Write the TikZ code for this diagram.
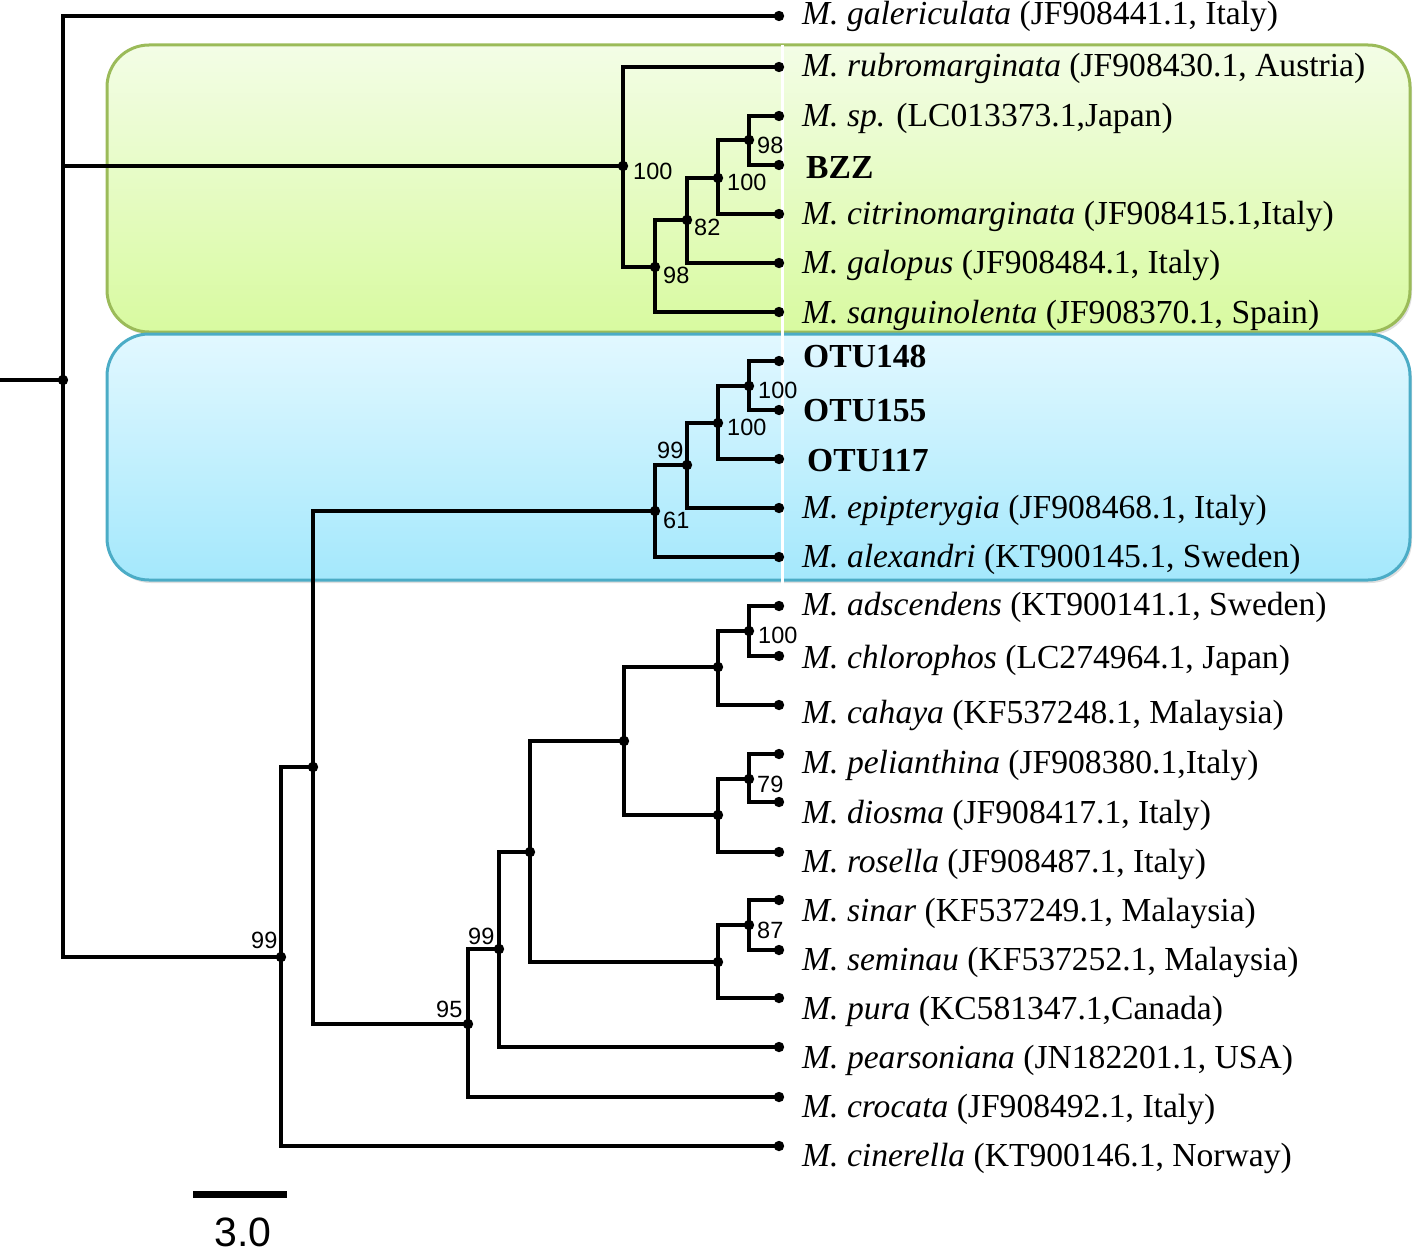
\documentclass[tikz,border=0pt]{standalone}
\usepackage{fontspec}
\setmainfont{Liberation Serif}
\newfontfamily\arialf{Liberation Sans}
\usetikzlibrary{shadows}
\definecolor{gborder}{RGB}{155,187,89}
\definecolor{gtop}{RGB}{243,253,230}
\definecolor{gbot}{RGB}{216,250,160}
\definecolor{bborder}{RGB}{75,172,198}
\definecolor{btop}{RGB}{226,248,255}
\definecolor{bbot}{RGB}{164,232,252}
\begin{document}
\begin{tikzpicture}[x=1pt,y=-1pt,
  branch/.style={line width=3.6pt, line cap=rect},
  tipdot/.style={fill=black},
  leaf/.style={anchor=base west, inner sep=0pt, font=\fontsize{33.6}{36}\selectfont},
  boot/.style={anchor=base west, inner sep=0pt, font=\arialf\fontsize{23.5}{26}\selectfont},
  clade/.style={rounded corners=42pt, line width=3pt, drop shadow={opacity=0.25, shadow xshift=2pt, shadow yshift=-3pt}}
]
\useasboundingbox (0,0) rectangle (1418,1255);
% clade boxes
\draw[clade, draw=gborder, top color=gtop, bottom color=gbot] (107,45) rectangle (1410,332);
\draw[clade, draw=bborder, top color=btop, bottom color=bbot] (107,334) rectangle (1410,580);
\coordinate (w1) at (782,45);
\coordinate (w2) at (782,590);
\draw[white, line width=3pt] (w1) -- (w2);

% internal nodes
\coordinate (stub) at (0,380);
\coordinate (root) at (63,380);
\coordinate (nA) at (623,166);
\coordinate (nB) at (655,267);
\coordinate (nC) at (687,220);
\coordinate (nD) at (718,178);
\coordinate (nE) at (749,140);
\coordinate (nF) at (281,957);
\coordinate (nG) at (313,767);
\coordinate (nH) at (655,511);
\coordinate (nJ) at (687,465);
\coordinate (nK) at (718,423);
\coordinate (nL) at (749,386);
\coordinate (nI) at (468,1024);
\coordinate (nM) at (499,949);
\coordinate (nN) at (530,852);
\coordinate (nO) at (624,741);
\coordinate (nP) at (718,962);
\coordinate (nQ) at (718,667);
\coordinate (nR) at (718,815);
\coordinate (nS) at (749,631);
\coordinate (nT) at (749,779);
\coordinate (nU) at (749,925);
% tips
\coordinate (t1) at (779,16);
\coordinate (t2) at (779,67);
\coordinate (t3) at (779,116);
\coordinate (t4) at (779,165);
\coordinate (t5) at (779,214);
\coordinate (t6) at (779,263);
\coordinate (t7) at (779,312);
\coordinate (t8) at (779,361);
\coordinate (t9) at (779,410);
\coordinate (t10) at (779,459);
\coordinate (t11) at (779,508);
\coordinate (t12) at (779,557);
\coordinate (t13) at (779,606);
\coordinate (t14) at (779,656);
\coordinate (t15) at (779,705);
\coordinate (t16) at (779,754);
\coordinate (t17) at (779,802);
\coordinate (t18) at (779,852);
\coordinate (t19) at (779,900);
\coordinate (t20) at (779,950);
\coordinate (t21) at (779,998);
\coordinate (t22) at (779,1047);
\coordinate (t23) at (779,1097);
\coordinate (t24) at (779,1146);

% branches
\draw[branch] (stub) -- (root);
\foreach \p/\c in {root/t1, root/nA, root/nF,
  nA/t2, nA/nB, nB/nC, nB/t7, nC/nD, nC/t6, nD/nE, nD/t5, nE/t3, nE/t4,
  nF/nG, nF/t24, nG/nH, nG/nI,
  nH/nJ, nH/t12, nJ/nK, nJ/t11, nK/nL, nK/t10, nL/t8, nL/t9,
  nI/nM, nI/t23, nM/nN, nM/t22, nN/nO, nN/nP,
  nO/nQ, nO/nR, nQ/nS, nQ/t15, nS/t13, nS/t14,
  nR/nT, nR/t18, nT/t16, nT/t17,
  nP/nU, nP/t21, nU/t19, nU/t20}
  \draw[branch] (\p) |- (\c);

% dots
\foreach \n in {root,nA,nB,nC,nD,nE,nF,nG,nH,nJ,nK,nL,nI,nM,nN,nO,nP,nQ,nR,nS,nT,nU,
  t1,t2,t3,t4,t5,t6,t7,t8,t9,t10,t11,t12,t13,t14,t15,t16,t17,t18,t19,t20,t21,t22,t23,t24}
  \fill[tipdot] (\n) circle (5.2);

% leaf labels
\node[leaf] (l1) at (802,25) {\textit{M. galericulata} (JF908441.1, Italy)};
\node[leaf] (l2) at (802,76) {\textit{M. rubromarginata} (JF908430.1, Austria)};
\node[leaf] (l3) at (802,126) {\textit{M. sp.} (LC013373.1,Japan)};
\node[leaf] (l4) at (806,178) {\textbf{BZZ}};
\node[leaf] (l5) at (802,224) {\textit{M. citrinomarginata} (JF908415.1,Italy)};
\node[leaf] (l6) at (802,273) {\textit{M. galopus} (JF908484.1, Italy)};
\node[leaf] (l7) at (802,323) {\textit{M. sanguinolenta} (JF908370.1, Spain)};
\node[leaf] (l8) at (803,367) {\textbf{OTU148}};
\node[leaf] (l9) at (803,421) {\textbf{OTU155}};
\node[leaf] (l10) at (807,471) {\textbf{OTU117}};
\node[leaf] (l11) at (802,518) {\textit{M. epipterygia} (JF908468.1, Italy)};
\node[leaf] (l12) at (802,567) {\textit{M. alexandri} (KT900145.1, Sweden)};
\node[leaf] (l13) at (802,615) {\textit{M. adscendens} (KT900141.1, Sweden)};
\node[leaf] (l14) at (802,668) {\textit{M. chlorophos} (LC274964.1, Japan)};
\node[leaf] (l15) at (802,723) {\textit{M. cahaya} (KF537248.1, Malaysia)};
\node[leaf] (l16) at (802,773) {\textit{M. pelianthina} (JF908380.1,Italy)};
\node[leaf] (l17) at (802,823) {\textit{M. diosma} (JF908417.1, Italy)};
\node[leaf] (l18) at (802,872) {\textit{M. rosella} (JF908487.1, Italy)};
\node[leaf] (l19) at (802,921) {\textit{M. sinar} (KF537249.1, Malaysia)};
\node[leaf] (l20) at (802,970) {\textit{M. seminau} (KF537252.1, Malaysia)};
\node[leaf] (l21) at (802,1019) {\textit{M. pura} (KC581347.1,Canada)};
\node[leaf] (l22) at (802,1068) {\textit{M. pearsoniana} (JN182201.1, USA)};
\node[leaf] (l23) at (802,1117) {\textit{M. crocata} (JF908492.1, Italy)};
\node[leaf] (l24) at (802,1166) {\textit{M. cinerella} (KT900146.1, Norway)};

% bootstrap values
\node[boot] (b1) at (633,179) {100};
\node[boot] (b2) at (757,153) {98};
\node[boot] (b3) at (727,190) {100};
\node[boot] (b4) at (694,235) {82};
\node[boot] (b5) at (663,283) {98};
\node[boot] (b6) at (758,398) {100};
\node[boot] (b7) at (727,435) {100};
\node[boot] (b8) at (657,458) {99};
\node[boot] (b9) at (663,528) {61};
\node[boot] (b10) at (758,643) {100};
\node[boot] (b11) at (757,792) {79};
\node[boot] (b12) at (757,938) {87};
\node[boot] (b13) at (251,948) {99};
\node[boot] (b14) at (468,944) {99};
\node[boot] (b15) at (436,1017) {95};

% scale bar
\coordinate (sb1) at (193,1194);
\coordinate (sb2) at (287,1194);
\draw[line width=7pt] (sb1) -- (sb2);
\node[anchor=base, inner sep=0pt, font=\arialf\fontsize{41}{44}\selectfont] (sbl) at (243,1246) {3.0};
\end{tikzpicture}
\end{document}
